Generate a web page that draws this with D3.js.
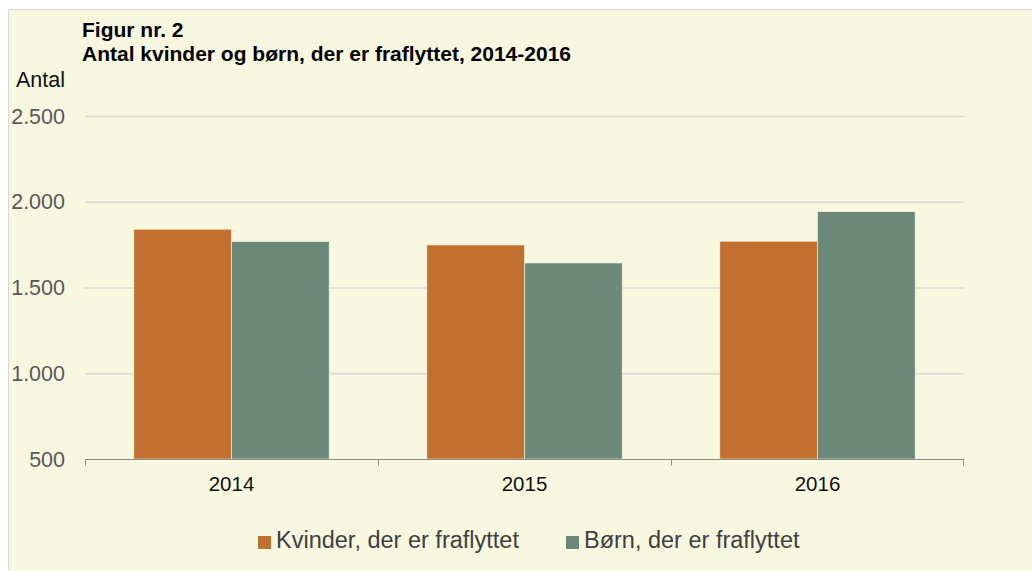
<!DOCTYPE html>
<html>
<head>
<meta charset="utf-8">
<script src="https://cdn.jsdelivr.net/npm/d3@7"></script>
<style>
  body { margin: 0; background: #fff; font-family: "Liberation Sans", Arial, sans-serif; }
</style>
</head>
<body>
<div id="chart"></div>
<script>
// data
const years = ["2014", "2015", "2016"];
const series = ["Kvinder, der er fraflyttet", "Børn, der er fraflyttet"];
const kvinder = [1840, 1748, 1770];
const boern = [1768, 1643, 1942];
const yTicks = [500, 1000, 1500, 2000, 2500];
const colors = ["#c2702f", "#6b8878"];

const width = 1032, height = 571;
const margin = {left: 85, right: 68, top: 116, bottom: 112};

const svg = d3.select("#chart").append("svg")
    .attr("width", width)
    .attr("height", height);

// panel background
svg.append("rect")
    .attr("x", 8.5).attr("y", 9.5)
    .attr("width", width).attr("height", height)
    .attr("fill", "#f8f7e0")
    .attr("stroke", "#d8d8d0");

const x0 = d3.scaleBand()
    .domain(years)
    .range([margin.left, width - margin.right]);

const x1 = d3.scaleBand()
    .domain(series)
    .range([0, x0.bandwidth()])
    .paddingOuter(0.5)
    .paddingInner(0);

const y = d3.scaleLinear()
    .domain([500, 2500])
    .range([height - margin.bottom, margin.top]);

// gridlines
svg.append("g")
    .selectAll("line")
    .data(yTicks.slice(1))
    .enter().append("line")
    .attr("x1", margin.left).attr("x2", width - margin.right)
    .attr("y1", d => y(d) + 0.5).attr("y2", d => y(d) + 0.5)
    .attr("stroke", "#d9d9d9")
    .attr("stroke-width", 1.5);

// y tick labels
svg.append("g")
    .selectAll("text")
    .data(yTicks)
    .enter().append("text")
    .attr("x", 65)
    .attr("y", d => y(d) + 7.5)
    .attr("text-anchor", "end")
    .attr("font-size", 21.5)
    .attr("fill", "#595959")
    .text(d => d3.format(",")(d).replace(/,/g, "."));

// bars
const rows = years.map((yr, i) => ({year: yr, values: [kvinder[i], boern[i]]}));

const grp = svg.append("g")
    .selectAll("g")
    .data(rows)
    .enter().append("g")
    .attr("transform", d => `translate(${x0(d.year)},0)`);

grp.selectAll("rect")
    .data(d => d.values.map((v, j) => ({key: series[j], value: v, j: j})))
    .enter().append("rect")
    .attr("x", d => x1(d.key))
    .attr("y", d => y(d.value))
    .attr("width", x1.bandwidth())
    .attr("height", d => y(500) - y(d.value))
    .attr("fill", d => colors[d.j])
    .attr("stroke", "#f8f7e0")
    .attr("stroke-width", 0.6);

// x axis
const xAxis = svg.append("g")
    .attr("transform", `translate(0,${y(500) + 0.5})`);
xAxis.append("line")
    .attr("x1", margin.left).attr("x2", width - margin.right)
    .attr("stroke", "#8c8c8c");
xAxis.selectAll(".tick")
    .data(years.concat(["end"]))
    .enter().append("line")
    .attr("x1", (d, i) => i < years.length ? x0(d) + 0.5 : x0.range()[1] - 0.5)
    .attr("x2", (d, i) => i < years.length ? x0(d) + 0.5 : x0.range()[1] - 0.5)
    .attr("y1", 0).attr("y2", 6)
    .attr("stroke", "#8c8c8c");
xAxis.selectAll("text")
    .data(years)
    .enter().append("text")
    .attr("x", d => x0(d) + x0.bandwidth() / 2)
    .attr("y", 31.5)
    .attr("text-anchor", "middle")
    .attr("font-size", 20.5)
    .attr("fill", "#111")
    .text(d => d);

// titles
svg.append("text")
    .attr("x", 82).attr("y", 37)
    .attr("font-size", 21).attr("font-weight", "bold")
    .text("Figur nr. 2");
svg.append("text")
    .attr("x", 82).attr("y", 61)
    .attr("font-size", 21).attr("font-weight", "bold")
    .text("Antal kvinder og børn, der er fraflyttet, 2014-2016");
svg.append("text")
    .attr("x", 16).attr("y", 87)
    .attr("font-size", 21.5)
    .attr("fill", "#111")
    .text("Antal");

// legend
const legendX = [258, 566];
const leg = svg.append("g")
    .selectAll("g")
    .data(series)
    .enter().append("g")
    .attr("transform", (d, i) => `translate(${legendX[i]},536)`);
leg.append("rect")
    .attr("width", 13).attr("height", 13)
    .attr("fill", (d, i) => colors[i]);
leg.append("text")
    .attr("x", 18).attr("y", 12)
    .attr("font-size", 23.5)
    .attr("fill", "#404040")
    .text(d => d);
</script>
</body>
</html>
